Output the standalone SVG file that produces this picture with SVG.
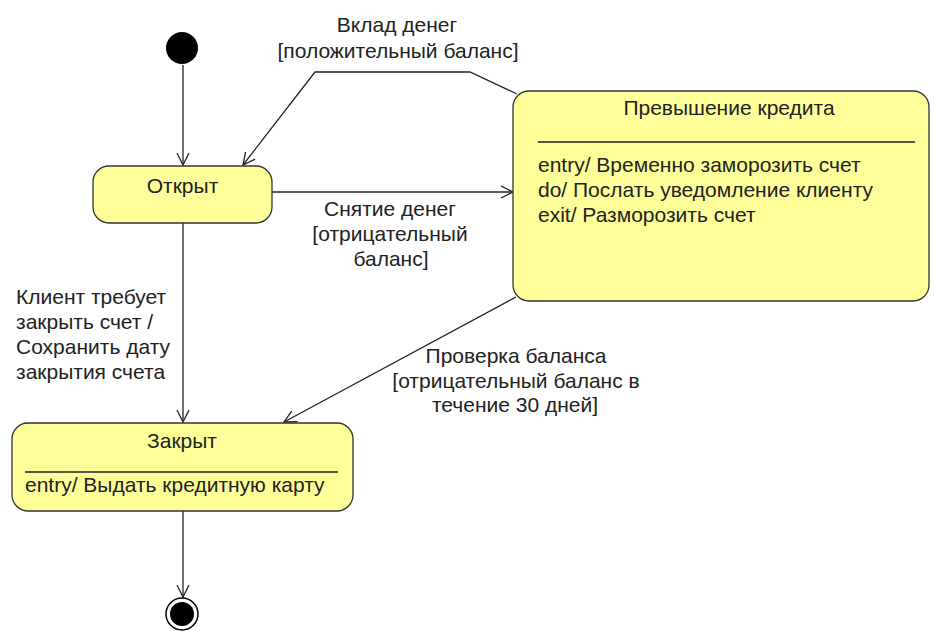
<svg xmlns="http://www.w3.org/2000/svg" width="935" height="631" viewBox="0 0 935 631">
<defs>
<marker id="arr" markerUnits="userSpaceOnUse" markerWidth="14" markerHeight="14" viewBox="0 0 14 14" refX="13" refY="7" orient="auto">
<path d="M1,1 L13,7 L1,13" fill="none" stroke="#222" stroke-width="1.3"/>
</marker>
<style>
.st{fill:#ffff99;stroke:#333;stroke-width:1.3}
.t{font-family:"Liberation Sans",Arial,sans-serif;font-size:21px;fill:#222}
.c{text-anchor:middle}
.ln{fill:none;stroke:#222;stroke-width:1.3}
.sep{stroke:#222;stroke-width:1.3}
</style>
</defs>
<rect width="935" height="631" fill="#fff"/>
<g id="connectors">
<path class="ln" d="M183,65 L183,165" marker-end="url(#arr)"/>
<path class="ln" d="M517,94 L470,72 L315,72 L243,165" marker-end="url(#arr)"/>
<path class="ln" d="M272,192 L513,192" marker-end="url(#arr)"/>
<path class="ln" d="M183,223 L183,422" marker-end="url(#arr)"/>
<path class="ln" d="M516,297 L284,422" marker-end="url(#arr)"/>
<path class="ln" d="M183,511 L183,597" marker-end="url(#arr)"/>
<text class="t c" x="397" y="32">Вклад денег</text>
<text class="t c" x="398" y="58">[положительный баланс]</text>
<text class="t c" x="390" y="216">Снятие денег</text>
<text class="t c" x="390" y="241">[отрицательный</text>
<text class="t c" x="391" y="266">баланс]</text>
<text class="t" x="16" y="304">Клиент требует</text>
<text class="t" x="16" y="329">закрыть счет /</text>
<text class="t" x="16" y="354">Сохранить дату</text>
<text class="t" x="16" y="379">закрытия счета</text>
<text class="t c" x="516" y="363">Проверка баланса</text>
<text class="t c" x="516" y="388">[отрицательный баланс в</text>
<text class="t c" x="515" y="412">течение 30 дней]</text>
</g>
<g id="initial">
<circle cx="182" cy="48" r="16" fill="#000"/>
</g>
<g id="open">
<rect class="st" x="93" y="166" width="179" height="57" rx="16"/>
<text class="t c" x="182.5" y="193">Открыт</text>
</g>
<g id="overdraft">
<rect class="st" x="513" y="91" width="416" height="210" rx="16"/>
<text class="t c" x="729" y="115">Превышение кредита</text>
<line class="sep" x1="538" y1="142" x2="915" y2="142"/>
<text class="t" x="538" y="172">entry/ Временно заморозить счет</text>
<text class="t" x="538" y="197">do/ Послать уведомление клиенту</text>
<text class="t" x="538" y="222">exit/ Разморозить счет</text>
</g>
<g id="closed">
<rect class="st" x="12" y="423" width="341" height="88" rx="16"/>
<text class="t c" x="182" y="448">Закрыт</text>
<line class="sep" x1="25" y1="472" x2="338" y2="472"/>
<text class="t" x="25" y="492">entry/ Выдать кредитную карту</text>
</g>
<g id="final">
<circle cx="182" cy="614" r="16" fill="#fff" stroke="#000" stroke-width="1.5"/>
<circle cx="182" cy="614" r="12" fill="#000"/>
</g>
</svg>
